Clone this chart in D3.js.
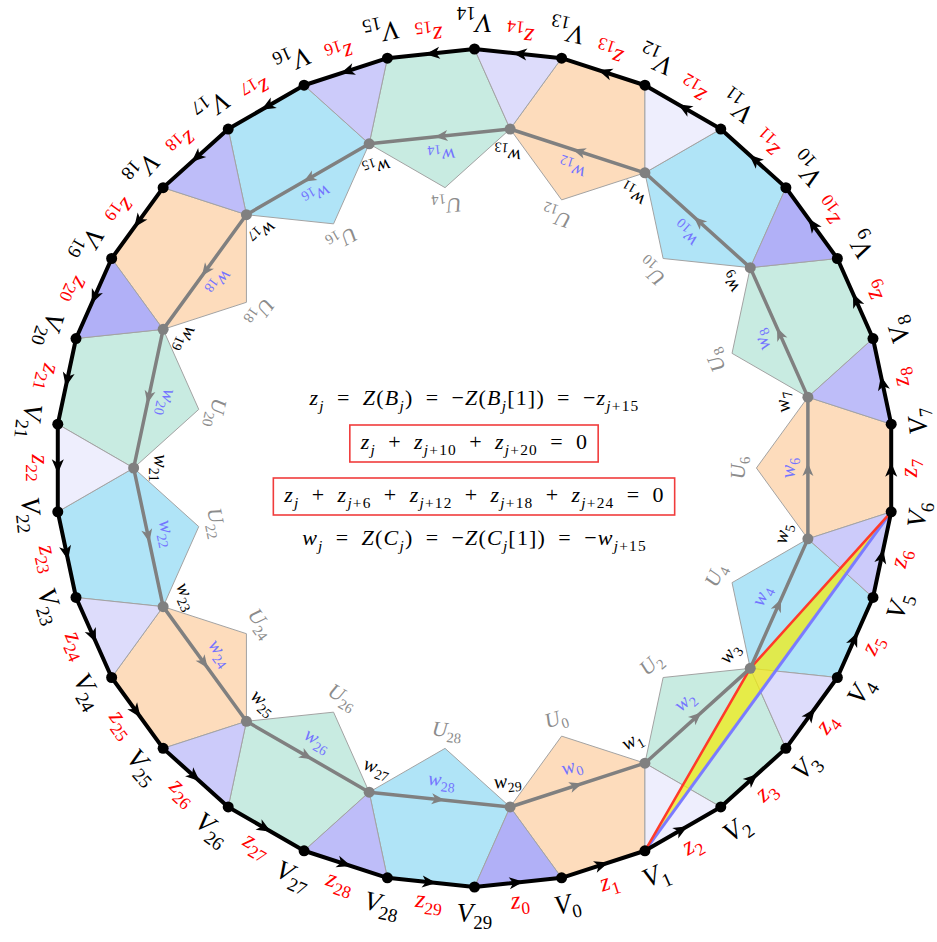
<!DOCTYPE html>
<html>
<head>
<meta charset="utf-8">
<script src="https://cdn.jsdelivr.net/npm/d3@7"></script>
<style>
  body { margin: 0; background: #fff; }
  svg { display: block; }
  text { font-family: "Liberation Serif", "Times New Roman", serif; }
</style>
</head>
<body>
<div id="fig"></div>
<script>
// outer 30-gon: vertices V0..V29, edge z_k runs V_{k-1} -> V_k
const vertexIdx = [0,1,2,3,4,5,6,7,8,9,10,11,12,13,14,15,16,17,18,19,20,21,22,23,24,25,26,27,28,29];
// odd indices: inner points w_k and the triangles (w_k, V_k, V_k+1)
const oddIdx = [1,3,5,7,9,11,13,15,17,19,21,23,25,27,29];
// even indices: pentagons (V_j, V_j+1, w_j+1, U_j, w_j-1), labels w_j and U_j
const evenIdx = [0,2,4,6,8,10,12,14,16,18,20,22,24,26,28];

const pentColours = ["#fddcbc", "#c8ebe1", "#b0e4f7"];
const triColours = ["#eeeefd", "#dddcfb", "#cccbfa", "#bebdf9", "#b1b0f7"];

// highlighted triangle V1 - w3 - V6
const yellowTri = [["V", 1], ["W", 3], ["V", 6]];
const redPath = [["V", 1], ["W", 3], ["V", 6]];
const bluePath = [["V", 1], ["V", 6]];

// formulas in the middle, as [kind, text]: i italic, r roman, s italic sub, sr roman sub
const E = "\u2002=\u2002", P = "\u2002+\u2002";
const formula1 = [["i","z"],["s","j"],["r",E],["i","Z"],["r","("],["i","B"],["s","j"],["r",")"+E+"−"],["i","Z"],["r","("],["i","B"],["s","j"],["r","[1])"+E+"−"],["i","z"],["s","j"],["sr","+15"]];
const formula2 = [["i","z"],["s","j"],["r",P],["i","z"],["s","j"],["sr","+10"],["r",P],["i","z"],["s","j"],["sr","+20"],["r",E+"0"]];
const formula3 = [["i","z"],["s","j"],["r",P],["i","z"],["s","j"],["sr","+6"],["r",P],["i","z"],["s","j"],["sr","+12"],["r",P],["i","z"],["s","j"],["sr","+18"],["r",P],["i","z"],["s","j"],["sr","+24"],["r",E+"0"]];
const formula4 = [["i","w"],["s","j"],["r",E],["i","Z"],["r","("],["i","C"],["s","j"],["r",")"+E+"−"],["i","Z"],["r","("],["i","C"],["s","j"],["r","[1])"+E+"−"],["i","w"],["s","j"],["sr","+15"]];

const width = 937, height = 942;
const cx = 474.5, cy = 468, R = 419;

const svg = d3.select("#fig").append("svg")
    .attr("width", width)
    .attr("height", height);

// index -> angle (degrees, screen coords)
const angle = d3.scaleLinear().domain([0, 30]).range([78, 78 - 360]);
const rad = d3.scaleLinear().domain([0, 180]).range([0, Math.PI]);

// regular pentagons and equilateral triangles on the 30-gon sides
const side = 2 * R * Math.sin(rad(6));
const apothem = R * Math.cos(rad(6));
const rW = apothem - side * Math.sqrt(3) / 2;
const rU = apothem - side * Math.sqrt(5 + 2 * Math.sqrt(5)) / 2;

function polar(r, deg) {
    return [cx + r * Math.cos(rad(deg)), cy + r * Math.sin(rad(deg))];
}
const V = k => polar(R, angle(k));
const Wp = k => polar(rW, angle(k) - 6);
const U = j => polar(rU, angle(j) - 6);
const pt = ([t, k]) => t === "V" ? V(k) : Wp(k);

// text with sub-scripts, baseline a bit below y=0
function mathText(sel, parts, size, colour) {
    const t = sel.append("text")
        .attr("font-size", size)
        .attr("fill", colour)
        .attr("text-anchor", "middle")
        .attr("y", size * 0.3);
    let shift = 0;
    parts.forEach(([kind, str]) => {
        const sub = kind === "s" || kind === "sr";
        const target = sub ? size * 0.25 : 0;
        const ts = t.append("tspan").text(str)
            .attr("font-size", sub ? size * 0.7 : size)
            .attr("font-style", (kind === "i" || kind === "s") ? "italic" : "normal");
        if (target !== shift) { ts.attr("dy", target - shift); shift = target; }
    });
    return t;
}

// label rotated so that its top points to the centre
function ringLabel(r, deg, parts, size, colour) {
    const [x, y] = polar(r, deg);
    const g = svg.append("g").attr("transform", `translate(${x},${y}) rotate(${deg - 90})`);
    mathText(g, parts, size, colour);
}

const arrowD = "M5,0 L-8,-5.5 L-4.5,0 L-8,5.5 Z";
function arrowAt(a, b, colour, scale) {
    const mx = (a[0] + b[0]) / 2, my = (a[1] + b[1]) / 2;
    const dir = Math.atan2(b[1] - a[1], b[0] - a[0]) * 180 / Math.PI;
    svg.append("path")
        .attr("d", arrowD)
        .attr("fill", colour)
        .attr("transform", `translate(${mx},${my}) rotate(${dir}) scale(${scale})`);
}

const line = d3.line();

// pentagons
svg.selectAll(".pent")
    .data(evenIdx)
    .enter()
    .append("path")
    .attr("class", "pent")
    .attr("d", j => line([V(j), V(j + 1), Wp(j + 1), U(j), Wp(j - 1)]) + "Z")
    .attr("fill", (j, i) => pentColours[i % 3])
    .attr("stroke", "#a3a3a3")
    .attr("stroke-width", 1);

// triangles
svg.selectAll(".tri")
    .data(oddIdx)
    .enter()
    .append("path")
    .attr("class", "tri")
    .attr("d", k => line([Wp(k), V(k), V(k + 1)]) + "Z")
    .attr("fill", (k, i) => triColours[i % 5])
    .attr("stroke", "#a3a3a3")
    .attr("stroke-width", 1);

// yellow highlight
svg.append("path")
    .attr("d", line(yellowTri.map(pt)) + "Z")
    .attr("fill", "rgb(240,236,20)")
    .attr("fill-opacity", 0.75);
svg.append("path")
    .attr("d", line(bluePath.map(pt)))
    .attr("fill", "none")
    .attr("stroke", "#7b7bff")
    .attr("stroke-width", 3);
svg.append("path")
    .attr("d", line(redPath.map(pt)))
    .attr("fill", "none")
    .attr("stroke", "#ff3a2a")
    .attr("stroke-width", 2.5);

// inner gray 15-gon w1 -> w3 -> ... with arrows
svg.append("path")
    .attr("d", line(oddIdx.map(Wp)) + "Z")
    .attr("fill", "none")
    .attr("stroke", "#808080")
    .attr("stroke-width", 3.5)
    .attr("stroke-linejoin", "round");
evenIdx.forEach(j => arrowAt(Wp(j - 1), Wp(j + 1), "#808080", 1));
svg.selectAll(".wdot")
    .data(oddIdx)
    .enter()
    .append("circle")
    .attr("cx", k => Wp(k)[0])
    .attr("cy", k => Wp(k)[1])
    .attr("r", 5.5)
    .attr("fill", "#808080");

// outer black 30-gon
svg.append("path")
    .attr("d", line(vertexIdx.map(V)) + "Z")
    .attr("fill", "none")
    .attr("stroke", "#000")
    .attr("stroke-width", 4)
    .attr("stroke-linejoin", "round");
vertexIdx.forEach(k => arrowAt(V(k - 1), V(k), "#000", 1.1));
svg.selectAll(".vdot")
    .data(vertexIdx)
    .enter()
    .append("circle")
    .attr("cx", k => V(k)[0])
    .attr("cy", k => V(k)[1])
    .attr("r", 5.5)
    .attr("fill", "#000");

// labels around the ring
vertexIdx.forEach(k => ringLabel(446, angle(k), [["i", "V"], ["sr", String(k)]], 27, "#000"));
vertexIdx.forEach(k => ringLabel(435, angle(k) + 6, [["i", "z"], ["sr", String(k)]], 25, "#ff0000"));
oddIdx.forEach(k => ringLabel(315, angle(k) - 6, [["i", "w"], ["sr", String(k)]], 20, "#000"));
evenIdx.forEach(j => ringLabel(314, angle(j) - 6, [["i", "w"], ["sr", String(j)]], 20, "#7474ff"));
evenIdx.forEach(j => ringLabel(264, angle(j) - 6, [["i", "U"], ["sr", String(j)]], 21, "#8c8c8c"));

// formulas
const formulas = [
    { parts: formula1, y: 405, box: false },
    { parts: formula2, y: 449, box: true },
    { parts: formula3, y: 502, box: true },
    { parts: formula4, y: 545, box: false }
];
formulas.forEach(f => {
    const g = svg.append("g").attr("transform", `translate(${cx},${f.y})`);
    const t = mathText(g, f.parts, 22, "#000")
        .attr("y", 0)
        .attr("letter-spacing", 1.2);
    if (f.box) {
        const bb = t.node().getBBox();
        g.insert("rect", "text")
            .attr("x", bb.x - 10)
            .attr("y", -24)
            .attr("width", bb.width + 20)
            .attr("height", 37)
            .attr("fill", "none")
            .attr("stroke", "#f03c3c")
            .attr("stroke-width", 1.6);
    }
});
</script>
</body>
</html>
